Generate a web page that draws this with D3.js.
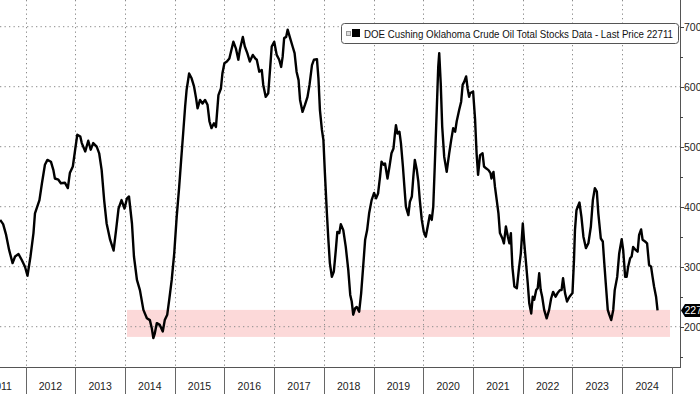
<!DOCTYPE html>
<html>
<head>
<meta charset="utf-8">
<script src="https://cdn.jsdelivr.net/npm/d3@7"></script>
<style>
    body { margin: 0; background: #fff; }
    #chart-area { width: 700px; height: 394px; overflow: hidden; }
    text { font-family: "Liberation Sans", Arial, sans-serif; }
</style>
</head>
<body>
<div id="chart-area"></div>
<script>
// weekly stocks (decimal year, thousand barrels)
let dates = [2011.49, 2011.55, 2011.61, 2011.67, 2011.74, 2011.79, 2011.86, 2011.92, 2011.99, 2012.04,
    2012.10, 2012.16, 2012.19, 2012.28, 2012.33, 2012.39, 2012.44, 2012.51, 2012.56, 2012.59,
    2012.66, 2012.71, 2012.79, 2012.85, 2012.89, 2012.95, 2013.00, 2013.04, 2013.10, 2013.13,
    2013.20, 2013.26, 2013.31, 2013.36, 2013.43, 2013.48, 2013.53, 2013.58, 2013.63, 2013.70,
    2013.77, 2013.82, 2013.87, 2013.93, 2013.99, 2014.04, 2014.08, 2014.14, 2014.18, 2014.24,
    2014.30, 2014.37, 2014.44, 2014.50, 2014.54, 2014.57, 2014.60, 2014.64, 2014.70, 2014.76,
    2014.80, 2014.85, 2014.89, 2014.94, 2014.99, 2015.04, 2015.09, 2015.13, 2015.17, 2015.21,
    2015.24, 2015.29, 2015.34, 2015.39, 2015.43, 2015.46, 2015.51, 2015.56, 2015.61, 2015.66,
    2015.70, 2015.74, 2015.79, 2015.83, 2015.88, 2015.93, 2015.96, 2016.00, 2016.05, 2016.10,
    2016.18, 2016.23, 2016.28, 2016.31, 2016.37, 2016.41, 2016.46, 2016.51, 2016.57, 2016.62,
    2016.65, 2016.70, 2016.75, 2016.78, 2016.83, 2016.88, 2016.92, 2016.95, 2017.00, 2017.05,
    2017.10, 2017.14, 2017.17, 2017.20, 2017.24, 2017.27, 2017.32, 2017.37, 2017.41, 2017.45,
    2017.49, 2017.52, 2017.57, 2017.62, 2017.67, 2017.71, 2017.76, 2017.80, 2017.86, 2017.89,
    2017.92, 2017.96, 2017.99, 2018.02, 2018.06, 2018.09, 2018.12, 2018.16, 2018.20, 2018.24,
    2018.27, 2018.31, 2018.34, 2018.39, 2018.44, 2018.49, 2018.53, 2018.56, 2018.59, 2018.63,
    2018.66, 2018.71, 2018.75, 2018.79, 2018.83, 2018.87, 2018.91, 2018.96, 2019.01, 2019.05,
    2019.09, 2019.13, 2019.16, 2019.20, 2019.23, 2019.28, 2019.32, 2019.36, 2019.40, 2019.43,
    2019.45, 2019.48, 2019.52, 2019.55, 2019.59, 2019.62, 2019.65, 2019.70, 2019.73, 2019.77,
    2019.80, 2019.83, 2019.87, 2019.90, 2019.93, 2019.97, 2020.01, 2020.05, 2020.10, 2020.13,
    2020.17, 2020.20, 2020.23, 2020.27, 2020.30, 2020.32, 2020.35, 2020.38, 2020.42, 2020.47,
    2020.52, 2020.56, 2020.60, 2020.64, 2020.67, 2020.72, 2020.76, 2020.79, 2020.82, 2020.86,
    2020.89, 2020.92, 2020.94, 2021.00, 2021.04, 2021.07, 2021.10, 2021.14, 2021.19, 2021.22,
    2021.26, 2021.31, 2021.35, 2021.37, 2021.41, 2021.44, 2021.48, 2021.51, 2021.54, 2021.59,
    2021.62, 2021.66, 2021.70, 2021.73, 2021.76, 2021.79, 2021.83, 2021.88, 2021.92, 2021.96,
    2022.00, 2022.03, 2022.06, 2022.10, 2022.13, 2022.17, 2022.20, 2022.23, 2022.27, 2022.30,
    2022.33, 2022.36, 2022.39, 2022.43, 2022.48, 2022.53, 2022.57, 2022.61, 2022.66, 2022.70,
    2022.75, 2022.78, 2022.81, 2022.85, 2022.89, 2022.94, 2023.00, 2023.03, 2023.05, 2023.08,
    2023.14, 2023.18, 2023.22, 2023.27, 2023.32, 2023.37, 2023.41, 2023.45, 2023.49, 2023.52,
    2023.57, 2023.61, 2023.64, 2023.67, 2023.71, 2023.74, 2023.78, 2023.82, 2023.85, 2023.90,
    2023.94, 2023.99, 2024.02, 2024.06, 2024.09, 2024.12, 2024.16, 2024.19, 2024.22, 2024.27,
    2024.31, 2024.34, 2024.38, 2024.41, 2024.46, 2024.50, 2024.54, 2024.58, 2024.61, 2024.64,
    2024.68, 2024.71];

let stocks = [37800, 37100, 35300, 32800, 30600, 31700, 32100, 31200, 30000, 28500,
    31700, 35600, 38900, 41100, 43900, 47000, 47800, 47500, 46100, 44700,
    44500, 43900, 44000, 43100, 45600, 46700, 49700, 52000, 51700, 50600,
    49200, 51000, 49500, 50600, 50000, 48900, 46100, 41100, 37200, 34500,
    32700, 36100, 39700, 41100, 39700, 41400, 41700, 37200, 31700, 27800,
    26100, 22800, 21400, 21100, 19700, 18100, 18900, 20600, 20300, 19200,
    21100, 22000, 24500, 27800, 32200, 38300, 43300, 47800, 52200, 56700,
    59500, 62200, 61400, 60000, 58100, 56400, 57800, 57200, 57800, 57000,
    54200, 53100, 53900, 53300, 58600, 59700, 62200, 63900, 64200, 64700,
    67500, 66400, 64500, 66100, 68300, 66700, 65600, 64200, 65300, 64700,
    64500, 62500, 62800, 60300, 58300, 58900, 63300, 66700, 67500, 65300,
    64500, 63300, 65000, 68100, 68300, 69500, 68100, 66700, 65600, 62500,
    61100, 57800, 55800, 57000, 58300, 60300, 63600, 64500, 64600, 61400,
    56100, 52800, 51100, 45600, 38900, 34500, 30600, 28300, 29200, 32800,
    35800, 35600, 37100, 36100, 33300, 29500, 25300, 24200, 22000, 23100,
    23300, 22500, 25600, 30000, 34500, 36100, 38900, 41100, 42300, 41400,
    42200, 45000, 47500, 47000, 47200, 44700, 46700, 48900, 49700, 52200,
    53600, 52200, 52500, 50600, 46700, 43300, 40000, 38600, 40800, 41700,
    45000, 47800, 46100, 44200, 41100, 37800, 35800, 35000, 37200, 38600,
    37800, 40000, 46700, 56100, 63300, 65600, 60600, 53300, 48300, 45800,
    48900, 51100, 53100, 52500, 54200, 56100, 57500, 60300, 60800, 61700,
    59700, 58300, 58900, 59200, 54500, 48900, 45300, 48600, 48900, 46700,
    46400, 46100, 45600, 44700, 45800, 43300, 40800, 38900, 35600, 34700,
    33900, 36700, 35000, 33900, 35600, 30000, 26700, 26400, 29500, 32200,
    37200, 33900, 31100, 27200, 23900, 22200, 25000, 24500, 26100, 26400,
    28900, 26100, 25000, 22800, 21400, 22800, 24700, 25800, 25000, 25600,
    26100, 26100, 28100, 25600, 24200, 25000, 25600, 31100, 36100, 39400,
    40700, 38300, 35000, 33100, 33900, 36700, 41100, 43100, 42500, 38900,
    34700, 34200, 30600, 27200, 22800, 22000, 21100, 22800, 26100, 28300,
    32200, 34600, 32800, 28300, 28300, 30000, 31400, 31700, 33300, 32800,
    32500, 35300, 36200, 34500, 34200, 33900, 30300, 30000, 28300, 26700,
    25000, 22711];

let years = [2011, 2012, 2013, 2014, 2015, 2016, 2017, 2018, 2019, 2020, 2021, 2022, 2023, 2024];
let yTicks = [20000, 30000, 40000, 50000, 60000, 70000];
let yMinorTicks = [15000, 25000, 35000, 45000, 55000, 65000];

// shaded support zone
let zoneStart = 2014.04, zoneEnd = 2024.96;
let zoneLow = 18300, zoneHigh = 22800;

let seriesName = "DOE Cushing Oklahoma Crude Oil Total Stocks Data - Last Price";

function toDate(y) {
    let yr = Math.floor(y);
    let start = new Date(yr, 0, 1), end = new Date(yr + 1, 0, 1);
    return new Date(+start + (y - yr) * (end - start));
}

class StocksChart {
    constructor(parentElement) {
        this.parentElement = parentElement;
        this.data = dates.map((d, i) => ({date: toDate(d), value: stocks[i]}));
        this.initVis();
    }

    initVis() {
        let vis = this;

        vis.width = 700;
        vis.height = 394;
        vis.plotRight = 680;
        vis.plotBottom = 367;

        vis.svg = d3.select("#" + vis.parentElement).append("svg")
            .attr("width", vis.width)
            .attr("height", vis.height);

        vis.x = d3.scaleTime()
            .domain([new Date(2012, 0, 1), new Date(2025, 0, 1)])
            .range([25.5, 672]);
        vis.y = d3.scaleLinear()
            .domain([20000, 70000])
            .range([326.7, 26.7]);

        vis.updateVis();
    }

    updateVis() {
        let vis = this;
        let last = vis.data[vis.data.length - 1];

        // pink zone
        vis.svg.append("rect")
            .attr("x", vis.x(toDate(zoneStart)))
            .attr("width", vis.x(toDate(zoneEnd)) - vis.x(toDate(zoneStart)))
            .attr("y", vis.y(zoneHigh))
            .attr("height", vis.y(zoneLow) - vis.y(zoneHigh))
            .attr("fill", "#fcd9d9");

        // dotted grid
        vis.svg.append("g").selectAll("line")
            .data(yTicks)
            .enter().append("line")
            .attr("x1", 0).attr("x2", vis.plotRight)
            .attr("y1", d => vis.y(d)).attr("y2", d => vis.y(d))
            .attr("stroke", "#8c8c8c")
            .attr("stroke-width", 1)
            .attr("stroke-dasharray", "1.3,3.2");

        let boundaries = years.slice(1).map(y => new Date(y, 0, 1));
        vis.svg.append("g").selectAll("line")
            .data(boundaries)
            .enter().append("line")
            .attr("x1", d => Math.round(vis.x(d)) + 0.5).attr("x2", d => Math.round(vis.x(d)) + 0.5)
            .attr("y1", 0).attr("y2", vis.plotBottom)
            .attr("stroke", "#8c8c8c")
            .attr("stroke-width", 1)
            .attr("stroke-dasharray", "1.3,3.2");

        // series line
        let line = d3.line()
            .x(d => vis.x(d.date))
            .y(d => vis.y(d.value));
        vis.svg.append("path")
            .datum(vis.data)
            .attr("d", line)
            .attr("fill", "none")
            .attr("stroke", "#000")
            .attr("stroke-width", 2.4)
            .attr("stroke-linejoin", "round");

        // frame: right axis + bottom
        vis.svg.append("line")
            .attr("x1", vis.plotRight + 0.5).attr("x2", vis.plotRight + 0.5)
            .attr("y1", 0).attr("y2", vis.plotBottom)
            .attr("stroke", "#555");
        vis.svg.append("line")
            .attr("x1", 0).attr("x2", vis.plotRight + 1)
            .attr("y1", vis.plotBottom + 0.5).attr("y2", vis.plotBottom + 0.5)
            .attr("stroke", "#555");

        // right axis ticks + labels (cut by the window edge, as in the original)
        let axisG = vis.svg.append("g");
        axisG.selectAll(".major")
            .data(yTicks)
            .enter().append("line")
            .attr("x1", vis.plotRight).attr("x2", vis.plotRight + 4)
            .attr("y1", d => Math.round(vis.y(d)) + 0.5).attr("y2", d => Math.round(vis.y(d)) + 0.5)
            .attr("stroke", "#444");
        axisG.selectAll(".minor")
            .data(yMinorTicks)
            .enter().append("line")
            .attr("x1", vis.plotRight).attr("x2", vis.plotRight + 3)
            .attr("y1", d => Math.round(vis.y(d)) + 0.5).attr("y2", d => Math.round(vis.y(d)) + 0.5)
            .attr("stroke", "#444");
        axisG.selectAll("text")
            .data(yTicks)
            .enter().append("text")
            .attr("x", vis.plotRight + 4)
            .attr("y", d => vis.y(d) + 4)
            .attr("font-size", 10.5)
            .attr("fill", "#222")
            .text(d => d);

        // year separators + labels
        let sepDates = years.slice(1).concat([2025]).map(y => new Date(y, 0, 1));
        vis.svg.append("g").selectAll("line")
            .data(sepDates)
            .enter().append("line")
            .attr("x1", d => Math.round(vis.x(d)) + 0.5).attr("x2", d => Math.round(vis.x(d)) + 0.5)
            .attr("y1", vis.plotBottom).attr("y2", vis.height)
            .attr("stroke", "#666");
        vis.svg.append("g").selectAll("text")
            .data(years)
            .enter().append("text")
            .attr("x", d => vis.x(new Date(d, 6, 2)))
            .attr("y", 390)
            .attr("text-anchor", "middle")
            .attr("font-size", 10.5)
            .attr("fill", "#222")
            .text(d => d);

        // last price badge
        let by = vis.y(last.value);
        vis.svg.append("path")
            .attr("d", `M${vis.plotRight + 1},${by} L${vis.plotRight + 5},${by - 6.5} L${vis.width + 5},${by - 6.5} L${vis.width + 5},${by + 6.5} L${vis.plotRight + 5},${by + 6.5} Z`)
            .attr("fill", "#000");
        vis.svg.append("text")
            .attr("x", vis.plotRight + 4.5)
            .attr("y", by + 4)
            .attr("font-size", 10.5)
            .attr("fill", "#fff")
            .text(last.value);

        // legend
        let legend = vis.svg.append("g").attr("class", "legend");
        legend.append("rect")
            .attr("x", 341.5).attr("y", 23.5)
            .attr("width", 337).attr("height", 20)
            .attr("rx", 3)
            .attr("fill", "#fff")
            .attr("stroke", "#555");
        legend.append("rect")
            .attr("x", 346.5).attr("y", 31.5)
            .attr("width", 4).attr("height", 4)
            .attr("fill", "#ddd")
            .attr("stroke", "#999");
        legend.append("rect")
            .attr("x", 352).attr("y", 29)
            .attr("width", 8).attr("height", 8)
            .attr("fill", "#000");
        legend.append("text")
            .attr("x", 364)
            .attr("y", 37.5)
            .attr("font-size", 11)
            .attr("fill", "#111")
            .attr("textLength", 309)
            .attr("lengthAdjust", "spacingAndGlyphs")
            .style("font-family", "'Liberation Sans Narrow', 'Arial Narrow', 'Liberation Sans', sans-serif")
            .text(`${seriesName} ${last.value}`);
    }
}

new StocksChart("chart-area");
</script>
</body>
</html>
